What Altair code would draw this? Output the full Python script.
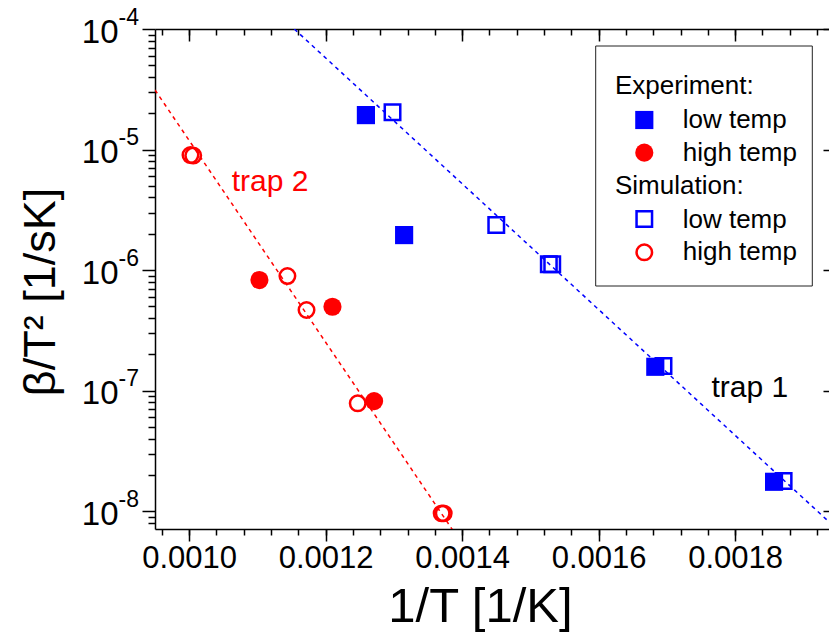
import altair as alt
import pandas as pd

FONT = "Liberation Sans"
BLUE = "#0000FF"
RED = "#FF0000"

# ---------------- data ----------------
exp_low_x = [0.001259, 0.001315, 0.001683, 0.001857]
exp_low_y = [1.93e-5, 1.95e-6, 1.575e-7, 1.75e-8]

exp_high_x = [0.001103, 0.001210, 0.001271]
exp_high_y = [8.26e-7, 4.96e-7, 8.18e-8]

sim_low_x = [0.001298, 0.001450, 0.001527, 0.001532, 0.001695, 0.001871]
sim_low_y = [2.04e-5, 2.36e-6, 1.115e-6, 1.115e-6, 1.597e-7, 1.775e-8]

sim_high_x = [0.001002, 0.001006, 0.001144, 0.001172, 0.001247, 0.001370, 0.001373]
sim_high_y = [9.0e-6, 8.9e-6, 8.92e-7, 4.66e-7, 7.83e-8, 9.57e-9, 9.57e-9]

fit1_x = [0.001154, 0.00194]   # trap 1 fit (blue)
fit1_y = [1.0e-4, 7.9e-9]
fit2_x = [0.00095, 0.00139]    # trap 2 fit (red)
fit2_y = [3.12e-5, 6.46e-9]

trap_labels = ["trap 2", "trap 1"]
trap_x = [0.0011185, 0.0018214]
trap_y = [4.53e-6, 8.88e-8]

x_major = [0.0010, 0.0012, 0.0014, 0.0016, 0.0018]
x_minor = [0.00096 + 0.00004 * i for i in range(25)]
y_major = [1e-8, 1e-7, 1e-6, 1e-5, 1e-4]
y_minor = [k * 10.0 ** e for e in range(-9, -4) for k in range(2, 10)
           if 7.1e-9 <= k * 10.0 ** e <= 1e-4]

# ---------------- geometry ----------------
W, H = 674, 500
xs = alt.Scale(domain=[0.00095, 0.0019375], nice=False, zero=False)
ys = alt.Scale(type="log", domain=[7.1e-9, 1e-4], nice=False)

common = dict(grid=False, labelFont=FONT, titleFont=FONT, labelColor="black",
              titleColor="black", domainColor="black", tickColor="black",
              labelOverlap=False, labelFlush=False, tickWidth=1.5, domainWidth=1.5)

ax_x_main = alt.Axis(orient="bottom", values=x_major, format=".4f", tickSize=12,
                     labelFontSize=31, labelPadding=2, title="1/T [1/K]",
                     titleFontSize=49, titleFontWeight="normal", titleX=325, titleY=92,
                     titleBaseline="alphabetic", titleAlign="center", **common)
ax_y_main = alt.Axis(orient="left", values=y_major, labelExpr="'10'", tickSize=13,
                     labelPadding=24, labelFontSize=33, labelBaseline="middle",
                     labelAlign="right", labelOffset=3, title="β/T² [1/sK]",
                     titleFontSize=45, titleFontWeight="normal", titleAngle=270,
                     titleX=-101, titleY=262.5, titleBaseline="alphabetic",
                     titleAlign="center", **common)
ax_x_minor = alt.Axis(orient="bottom", values=x_minor, tickSize=6, labels=False,
                      domain=False, title=None, **common)
ax_y_minor = alt.Axis(orient="left", values=y_minor, tickSize=7, labels=False,
                      domain=False, title=None, **common)
ax_x_top_major = alt.Axis(orient="top", values=x_major, offset=-12, tickSize=12,
                          labels=False, domain=False, title=None, **common)
ax_y_right = alt.Axis(orient="right", values=y_major, offset=-6, tickSize=6,
                      labels=False, domain=False, title=None, **common)
ax_x_top_minor = alt.Axis(orient="top", values=x_minor, offset=-6, tickSize=6,
                          labels=False, domain=False, title=None, **common)
ax_y_exp = alt.Axis(orient="left", values=y_major, ticks=False, tickSize=0,
                    domain=False, labelAlign="left", labelPadding=37,
                    labelFontSize=23, labelBaseline="middle", labelOffset=-12,
                    labelExpr="'' + round(log(datum.value) / LN10)", title=None, **common)
ax_x_top_domain = alt.Axis(orient="top", ticks=False, labels=False, domain=True,
                           title=None, **common)


def df(x, y):
    return pd.DataFrame({"x": x, "y": y})


fit2 = alt.Chart(df(fit2_x, fit2_y)).mark_line(
    color=RED, strokeDash=[4, 4], strokeWidth=1.5, clip=True
).encode(x=alt.X("x:Q", scale=xs, axis=ax_x_main), y=alt.Y("y:Q", scale=ys, axis=ax_y_main))

fit1 = alt.Chart(df(fit1_x, fit1_y)).mark_line(
    color=BLUE, strokeDash=[4, 4], strokeWidth=1.5, clip=True
).encode(x=alt.X("x:Q", scale=xs, axis=ax_x_minor), y=alt.Y("y:Q", scale=ys, axis=ax_y_minor))

p_exp_low = alt.Chart(df(exp_low_x, exp_low_y)).mark_point(
    shape="square", filled=True, size=330, color=BLUE, opacity=1
).encode(x=alt.X("x:Q", scale=xs, axis=None), y=alt.Y("y:Q", scale=ys, axis=None))

p_sim_low = alt.Chart(df(sim_low_x, sim_low_y)).mark_point(
    shape="square", filled=False, size=240, color=BLUE, strokeWidth=2.5, opacity=1
).encode(x=alt.X("x:Q", scale=xs, axis=ax_x_top_minor), y=alt.Y("y:Q", scale=ys, axis=ax_y_exp))

p_sim_high = alt.Chart(df(sim_high_x, sim_high_y)).mark_point(
    shape="circle", filled=False, size=240, color=RED, strokeWidth=2.5, opacity=1
).encode(x=alt.X("x:Q", scale=xs, axis=ax_x_top_major), y=alt.Y("y:Q", scale=ys, axis=ax_y_right))

p_exp_high = alt.Chart(df(exp_high_x, exp_high_y)).mark_point(
    shape="circle", filled=True, size=330, color=RED, opacity=1
).encode(x=alt.X("x:Q", scale=xs, axis=ax_x_top_domain), y=alt.Y("y:Q", scale=ys, axis=None))

trap_df = pd.DataFrame({"x": trap_x, "y": trap_y, "label": trap_labels})
trap_text = alt.Chart(trap_df).mark_text(
    font=FONT, fontSize=30, align="center", baseline="alphabetic"
).encode(
    x=alt.X("x:Q", scale=xs, axis=None),
    y=alt.Y("y:Q", scale=ys, axis=None),
    text="label:N",
    color=alt.Color("label:N", scale=alt.Scale(domain=trap_labels, range=[RED, "black"]), legend=None),
)

# ---------------- legend box (drawn as a guide) ----------------
one = pd.DataFrame({"k": [0]})
LEG_FS = 26
legend_layers = [
    alt.Chart(one).mark_rect(fill="white", stroke="#222222", strokeWidth=1).encode(
        x=alt.value(440.7), x2=alt.value(657.3), y=alt.value(17), y2=alt.value(257)),
]
for txt, xx, yy in [("Experiment:", 460, 65.3), ("low temp", 527.7, 99),
                    ("high temp", 527.7, 131.5), ("Simulation:", 460, 165),
                    ("low temp", 527.7, 199), ("high temp", 527.7, 231)]:
    legend_layers.append(
        alt.Chart(one).mark_text(text=txt, font=FONT, fontSize=LEG_FS, align="left",
                                 baseline="alphabetic", color="black")
        .encode(x=alt.value(xx), y=alt.value(yy)))
for shape, filled, col, size, yy in [("square", True, BLUE, 330, 91),
                                     ("circle", True, RED, 330, 123.7),
                                     ("square", False, BLUE, 240, 190),
                                     ("circle", False, RED, 240, 223.3)]:
    legend_layers.append(
        alt.Chart(one).mark_point(shape=shape, filled=filled, color=col, size=size,
                                  strokeWidth=2.5, opacity=1)
        .encode(x=alt.value(489.3), y=alt.value(yy)))

chart = alt.layer(
    fit2, fit1, p_exp_low, p_sim_low, p_exp_high, p_sim_high, trap_text, *legend_layers
).resolve_axis(x="independent", y="independent").properties(
    width=W, height=H,
    autosize=alt.AutoSizeParams(type="none"),
    padding={"left": 155, "top": 29, "right": 0, "bottom": 108},
    background="white",
).configure_view(stroke=None)

chart.save("out.html", embed_options={"renderer": "svg", "actions": False})
